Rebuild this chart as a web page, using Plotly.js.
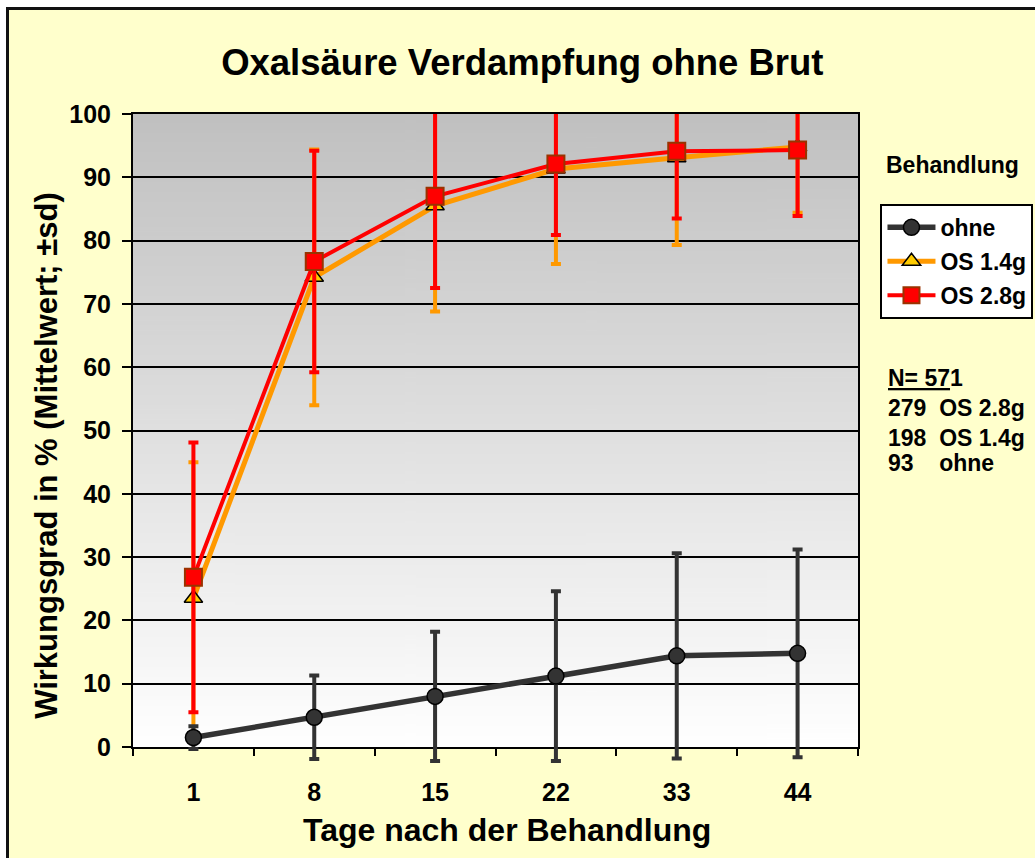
<!DOCTYPE html>
<html>
<head>
<meta charset="utf-8">
<script src="https://cdn.plot.ly/plotly-3.0.1.min.js"></script>
<style>
  body { margin: 0; background: #fff; overflow: hidden; }
  #frame { position: absolute; left: 6px; top: 7px; border: 3px solid #111; background: #FFFFCC; }
  #chart { width: 1080px; height: 850px; }
</style>
</head>
<body>
<div id="frame"><div id="chart"></div></div>
<script>
// Tage nach der Behandlung
const days = ['1', '8', '15', '22', '33', '44'];

// Wirkungsgrad in % (Mittelwert) und Standardabweichung
const ohne = [1.5, 4.7, 8.0, 11.2, 14.4, 14.8];
const ohneSd = [1.8, 6.6, 10.2, 13.4, 16.2, 16.4];
const os14 = [23.5, 74.2, 85.5, 91.3, 93.1, 94.8];
const os14Sd = [21.5, 20.2, 16.7, 15.0, 13.8, 10.4];
const os28 = [26.8, 76.7, 87.0, 92.1, 94.1, 94.3];
const os28Sd = [21.3, 17.5, 14.5, 11.2, 10.6, 10.4];

const yTicks = [0, 10, 20, 30, 40, 50, 60, 70, 80, 90, 100];
const sampleLines = ['<u>N= 57</u>1', '279  OS 2.8g', '198  OS 1.4g', '93    ohne'];

// plot background gradient (grey at top -> white at bottom)
const cv = document.createElement('canvas');
cv.width = 4; cv.height = 256;
const ctx = cv.getContext('2d');
const grd = ctx.createLinearGradient(0, 0, 0, 256);
grd.addColorStop(0, '#C0C0C0');
grd.addColorStop(1, '#FFFFFF');
ctx.fillStyle = grd;
ctx.fillRect(0, 0, 4, 256);

const font = 'Liberation Sans, Arial, sans-serif';
const bold = (size) => ({ family: font, size: size, color: '#000', weight: 'bold' });

// the "ohne" error bars hang a little below the x axis, so that series sits on an
// overlay subplot reaching slightly lower, with the same value scale
const lowPad = 0.0306;
const y2min = -100 * lowPad / (1 - lowPad);

const traces = [
  {
    name: 'ohne', legendgroup: 'a', x: days, y: ohne, xaxis: 'x2', yaxis: 'y2',
    type: 'scatter', mode: 'lines+markers',
    line: { color: '#333333', width: 5.5 },
    marker: { symbol: 'circle', size: 16, color: '#333333', line: { color: '#000', width: 1.5 } },
    error_y: { type: 'data', array: ohneSd, color: '#333333', thickness: 4, width: 5 },
  },
  {
    name: 'OS 1.4g', legendgroup: 'b', x: days, y: os14, type: 'scatter', mode: 'lines+markers',
    line: { color: '#FF9900', width: 5 },
    marker: { symbol: 'triangle-up', size: 16, color: '#FFCC00', line: { color: '#000', width: 1.5 } },
    error_y: { type: 'data', array: os14Sd, color: '#FF9900', thickness: 4, width: 5 },
  },
  {
    name: 'OS 2.8g', legendgroup: 'c', x: days, y: os28, type: 'scatter', mode: 'lines+markers',
    line: { color: '#FF0000', width: 4 },
    marker: { symbol: 'square', size: 17, color: '#FF0000', line: { color: '#993300', width: 2 } },
    error_y: { type: 'data', array: os28Sd, color: '#FF0000', thickness: 4, width: 5 },
  },
];

const annotations = [
  {
    text: 'Behandlung', xref: 'paper', yref: 'paper', x: 1.1297, y: 0.9219,
    xanchor: 'center', yanchor: 'middle', showarrow: false, font: bold(23),
  },
  {
    text: 'Wirkungsgrad in % (Mittelwert; ±sd)', textangle: -90,
    xref: 'paper', yref: 'paper', x: -0.1186, y: 0.4766,
    xanchor: 'center', yanchor: 'middle', showarrow: false, font: bold(31),
  },
  {
    text: 'Tage nach der Behandlung',
    xref: 'paper', yref: 'paper', x: 0.516, y: -0.0963,
    xanchor: 'center', yanchor: 'middle', showarrow: false, font: bold(32),
  },
];
const annY = [0.5957, 0.5498, 0.5037, 0.4655];
sampleLines.forEach((t, i) => {
  annotations.push({
    text: t.replace(/ {2,}/g, m => '\u00a0'.repeat(m.length)),
    xref: 'paper', yref: 'paper', x: 1.0386, y: annY[i],
    xanchor: 'left', yanchor: 'middle', showarrow: false, font: bold(23),
  });
});

Plotly.newPlot('chart', traces, {
  width: 1080, height: 850,
  margin: { l: 124, r: 231, t: 104, b: 93 },
  paper_bgcolor: '#FFFFCC',
  plot_bgcolor: 'rgba(0,0,0,0)',
  font: { family: font, color: '#000' },
  title: {
    text: 'Oxalsäure Verdampfung ohne Brut',
    font: bold(36.5),
    xref: 'paper', x: 0.537, yref: 'container', y: 0.939, yanchor: 'middle',
  },
  xaxis: {
    type: 'category', tickson: 'boundaries', range: [-0.5, 5.5],
    showline: true, linecolor: '#000', linewidth: 2, mirror: true,
    ticks: 'outside', ticklen: 7, tickcolor: '#000', tickwidth: 2,
    ticklabelstandoff: 22,
    tickfont: bold(25),
    showgrid: false, zeroline: false,
  },
  yaxis: {
    range: [0, 100], tickvals: yTicks, domain: [lowPad, 1],
    showline: true, linecolor: '#000', linewidth: 2, mirror: true,
    ticks: 'outside', ticklen: 9, tickcolor: '#000', tickwidth: 2,
    ticklabelstandoff: 6,
    tickfont: bold(25),
    showgrid: true, gridcolor: '#000', gridwidth: 2, zeroline: false,
  },
  xaxis2: { type: 'category', range: [-0.5, 5.5], anchor: 'y2', visible: false },
  yaxis2: { range: [y2min, 100], domain: [0, 1], anchor: 'x2', visible: false },
  images: [{
    source: cv.toDataURL(), xref: 'paper', yref: 'y',
    x: 0, y: 100, sizex: 1, sizey: 100, xanchor: 'left', yanchor: 'top',
    sizing: 'stretch', layer: 'below',
  }],
  legend: {
    x: 1.031, y: 0.8623, xanchor: 'left', yanchor: 'top',
    bgcolor: '#FFFFFF', bordercolor: '#000', borderwidth: 2,
    font: bold(23),
    itemwidth: 48, tracegroupgap: 1, traceorder: 'grouped',
  },
  annotations: annotations,
  showlegend: true,
}, { displayModeBar: false, staticPlot: true });
</script>
</body>
</html>
